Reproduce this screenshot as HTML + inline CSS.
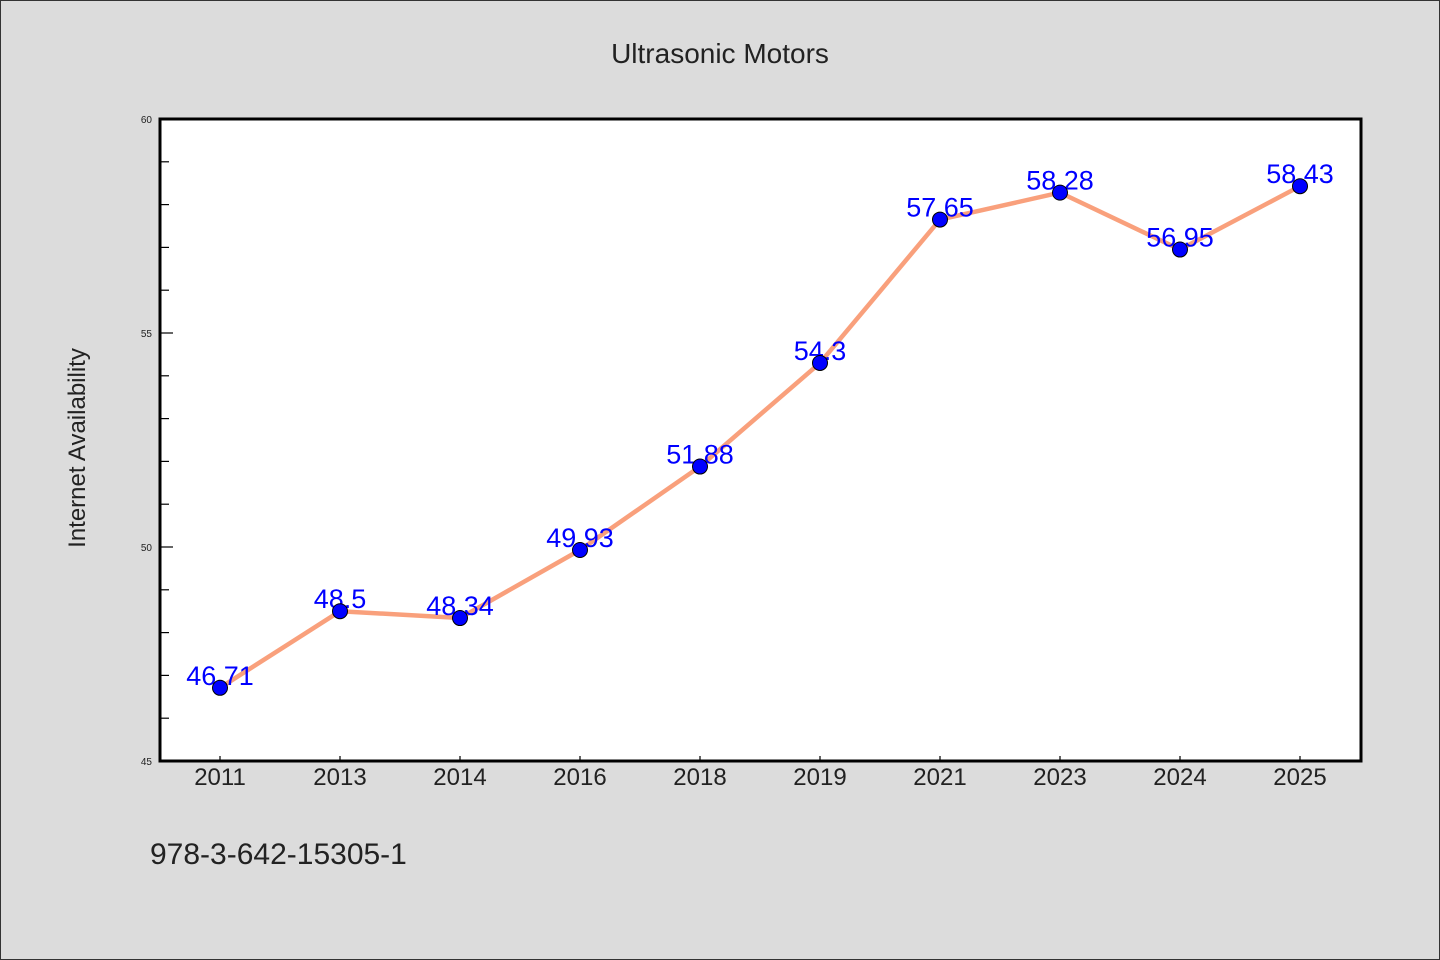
<!DOCTYPE html>
<html><head><meta charset="utf-8"><style>
html,body{margin:0;padding:0;background:#dcdcdc;}
svg{display:block;font-family:"WenQuanYi Zen Hei","Liberation Sans",sans-serif;}
</style></head><body>
<svg width="1440" height="960" viewBox="0 0 1440 960">
<rect x="0.5" y="0.5" width="1439" height="959" fill="#dcdcdc" stroke="#333"/>
<text x="720" y="63" text-anchor="middle" font-size="28" fill="#222">Ultrasonic Motors</text>
<text transform="translate(85,448) rotate(-90)" text-anchor="middle" font-size="24" fill="#222">Internet Availability</text>
<text x="150" y="864" font-size="30" fill="#222">978-3-642-15305-1</text>
<rect x="160" y="119" width="1201" height="642" fill="#fff"/>
<g id="axes"></g>
<g id="series"></g>
<rect x="160" y="119" width="1201" height="642" fill="none" stroke="#000" stroke-width="3"/>
</svg>
<script>
const categories=["2011","2013","2014","2016","2018","2019","2021","2023","2024","2025"];
const values=[46.71,48.5,48.34,49.93,51.88,54.3,57.65,58.28,56.95,58.43];
const labels=["46.71","48.5","48.34","49.93","51.88","54.3","57.65","58.28","56.95","58.43"];
const yTicks=[45,50,55,60];
const yMin=45,yMax=60;
const NS="http://www.w3.org/2000/svg";
const X0=160,W=1201,Y0=119,H=642;
function xs(i){return X0+60+i*120;}
function ys(v){return Y0+H-(v-yMin)/(yMax-yMin)*H;}
function mk(t,a,p){const e=document.createElementNS(NS,t);for(const k in a)e.setAttribute(k,a[k]);p.appendChild(e);return e;}
const ax=document.getElementById('axes'),sr=document.getElementById('series');
for(let v=yMin;v<=yMax;v++){
 const major=yTicks.includes(v);
 const l=mk('line',{x1:X0,x2:X0+(major?13:9),y1:ys(v),y2:ys(v),stroke:'#000','stroke-width':1.2},ax);
 
 
 if(major){const t=mk('text',{x:X0-8,y:ys(v)+4,'text-anchor':'end','font-size':10,fill:'#222'},ax);t.textContent=v;
 
 }
}
categories.forEach((c,i)=>{
 const l=mk('line',{x1:xs(i),x2:xs(i),y1:Y0+H,y2:Y0+H-5,stroke:'#000','stroke-width':1.2},ax);
 
 
 const t=mk('text',{x:xs(i),y:785,'text-anchor':'middle','font-size':24,fill:'#222'},ax);t.textContent=c;
 
 
});
const pl=mk('polyline',{points:values.map((v,i)=>xs(i)+','+ys(v)).join(' '),fill:'none',stroke:'#f9a07c','stroke-width':4.5,'stroke-linejoin':'round'},sr);


values.forEach((v,i)=>{
 const t=mk('text',{x:xs(i),y:ys(v)-3,'text-anchor':'middle','font-size':27,fill:'#0000ff'},sr);t.textContent=labels[i];
 
 
});
values.forEach((v,i)=>{
 const c=mk('circle',{cx:xs(i),cy:ys(v),r:7.5,fill:'#0000ff',stroke:'#000','stroke-width':1},sr);
 
 
});
</script>
</body></html>
